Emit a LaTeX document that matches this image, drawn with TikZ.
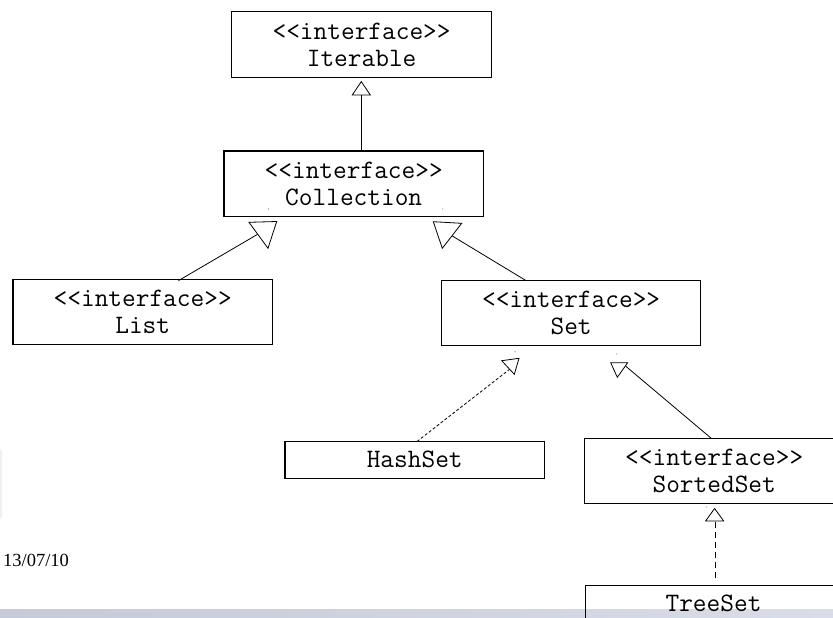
\documentclass[tikz,border=0pt]{standalone}
\usepackage{fontspec}
\newfontfamily\datefont{Liberation Serif}
\begin{document}
\begin{tikzpicture}[x=1pt,y=-1pt,
  umlbox/.style={draw=black, line width=1.1pt, rectangle, inner sep=0pt,
    minimum width=259.5pt, align=center,
    font=\ttfamily\fontsize{26.6}{27}\selectfont},
  link/.style={line width=0.8pt, draw=black},
  tri/.style={draw=black, line width=0.8pt, fill=white, line join=miter},
  dsmall/.style={link, dash pattern=on 3pt off 2pt},
  dlarge/.style={link, dash pattern=on 6pt off 4pt},
  speck/.style={fill=black!45}]
\useasboundingbox (0,0) rectangle (833,618);
\clip (0,0) rectangle (833,618);
\fill[white] (0,0) rectangle (833,618);
% bottom band
\shade[left color={rgb,255:red,196;green,202;blue,216}, right color={rgb,255:red,216;green,221;blue,231}]
  (0,609) rectangle (833,618);
\fill[black!6] (0,450) rectangle (1.5,518);

% boxes
\node[umlbox, minimum height=65.5pt] (iter) at (361.6,44.5) {<{}<interface>{}>\\Iterable};
\node[umlbox, minimum height=65.4pt] (coll) at (353.7,183.7) {<{}<interface>{}>\\Collection};
\node[umlbox, minimum height=64.5pt] (list) at (142.7,311.8) {<{}<interface>{}>\\List};
\node[umlbox, minimum height=64.7pt] (set) at (571.1,313) {<{}<interface>{}>\\Set};
\node[umlbox, minimum height=36.5pt] (hash) at (414.7,459.8) {HashSet};
\node[umlbox, minimum height=64.7pt] (sorted) at (714.2,471) {<{}<interface>{}>\\SortedSet};
\node[umlbox, minimum height=65pt, anchor=north west] (tree) at (584.5,585.3) {};
\node[font=\ttfamily\fontsize{26.6}{27}\selectfont, anchor=base, inner sep=0pt] (treelbl) at (713.5,611) {TreeSet};

% date
\node[font=\datefont\fontsize{18.5}{20}\selectfont, anchor=base west, inner sep=0pt] (date) at (3,566.5) {13/07/10};

% Collection -> Iterable
\coordinate (itip) at (361.3,81.6);
\coordinate (ibase) at (361.3,95);
\draw[link] (coll.north -| itip) -- (ibase);
\draw[tri] (itip) -- (352.3,95) -- (370.3,95) -- cycle;

% List -> Collection
\coordinate (lstart) at (178.5,280.6);
\coordinate (lend) at (257.6,234.3);
\draw[link] (lstart) -- (lend);
\draw[tri] (249,222.3) -- (276.7,221.5) -- (268,248.3) -- cycle;

% Set -> Collection
\coordinate (sstart) at (526,280.6);
\coordinate (send) at (452,235.8);
\draw[link] (sstart) -- (send);
\draw[tri] (433.3,221.7) -- (461.7,223.3) -- (442.3,248.3) -- cycle;

% HashSet -> Set (dashed)
\coordinate (hstart) at (417,441.5);
\coordinate (hend) at (509.6,369.3);
\draw[dsmall] (hstart) -- (hend);
\draw[tri] (501.7,360.7) -- (519,358.3) -- (514.3,374.3) -- cycle;

% SortedSet -> Set
\coordinate (ssstart) at (711.7,438.7);
\coordinate (ssend) at (625.5,366);
\draw[link] (ssstart) -- (ssend);
\draw[tri] (610.7,362.7) -- (627.7,362.7) -- (617.3,377.3) -- cycle;

% TreeSet -> SortedSet (dashed)
\coordinate (tstart) at (715.7,578);
\coordinate (tend) at (715.7,521);
\draw[dlarge] (tstart) -- (tend);
\draw[tri] (714.6,508.5) -- (705.6,521) -- (723.7,521) -- cycle;

% specks
\fill[speck] (268.3,209) circle (0.7);
\fill[speck] (442.7,209) circle (0.7);
\fill[speck] (515,351.7) circle (0.7);
\fill[speck] (616.7,354) circle (0.7);
\fill[speck] (706.7,507) circle (0.6);
\end{tikzpicture}
\end{document}
